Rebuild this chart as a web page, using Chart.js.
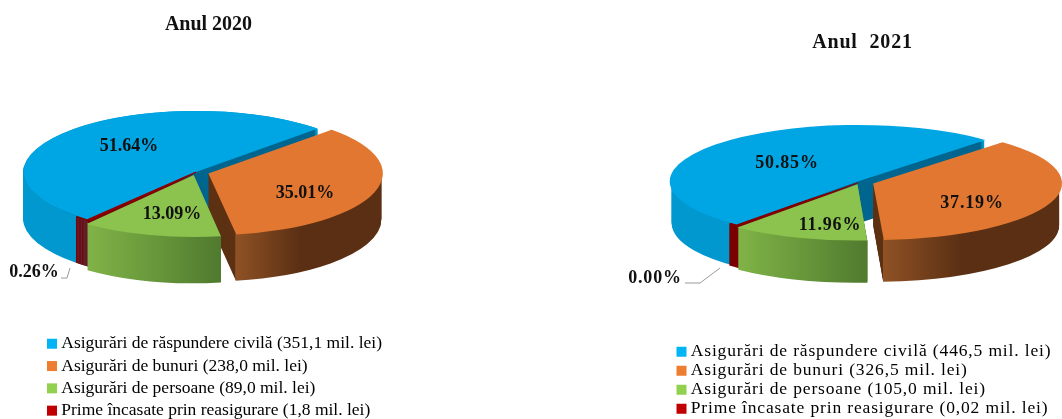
<!DOCTYPE html>
<html>
<head>
<meta charset="utf-8">
<style>
    html, body { margin: 0; padding: 0; background: #fff; overflow: hidden; }
    #wrap { position: relative; width: 1062px; height: 419px; overflow: hidden; }
    #wrap div { position: absolute; top: 0; height: 419px; }
</style>
<script src="https://cdn.jsdelivr.net/npm/chart.js@4"></script>
</head>
<body>
<div id="wrap">
    <div style="left:0"><canvas id="pie2020" width="392" height="419"></canvas></div>
    <div style="left:610px"><canvas id="pie2021" width="500" height="419"></canvas></div>
</div>
<script>
const values2020 = [351.1, 238.0, 89.0, 1.8];
const values2021 = [446.5, 326.5, 105.0, 0.02];
const percent2020 = ["51.64%", "35.01%", "13.09%", "0.26%"];
const percent2021 = ["50.85%", "37.19%", "11.96%", "0.00%"];
const legend2020 = [
    "Asigurări de răspundere civilă (351,1 mil. lei)",
    "Asigurări de bunuri (238,0 mil. lei)",
    "Asigurări de persoane (89,0 mil. lei)",
    "Prime încasate prin reasigurare (1,8 mil. lei)",
];
const legend2021 = [
    "Asigurări de răspundere civilă (446,5 mil. lei)",
    "Asigurări de bunuri (326,5 mil. lei)",
    "Asigurări de persoane (105,0 mil. lei)",
    "Prime încasate prin reasigurare (0,02 mil. lei)",
];

const topColors = ["#00a6e4", "#e17730", "#8bc34e", "#9c0a0a"];
const legendColors = ["#00b4f5", "#ed7d31", "#92d050", "#c00000"];
const cutColors = ["#00668f", "#5e3314", "#5d8a33", "#7a0000"];
const rimColors = [
    ["#0098cf", "#0098cf", "#0098cf"],
    ["#8f5225", "#5a2f13", "#5a2f13"],
    ["#80b347", "#6a9a3c", "#507a2e"],
    ["#7a0000", "#7a0000", "#7a0000"],
];

const serif = "'Liberation Serif', 'Times New Roman', serif";

// pie is squashed and extruded here, the arcs themselves come from the library
const pie3d = {
    id: "pie3d",
    afterLayout(chart, args, opts) {
        const legend = chart.legend;
        legend.left = opts.legendX - legend.options.labels.padding;
        legend.right = legend.left + 420;
        legend.top = opts.legendY - legend.options.labels.padding;
        legend.bottom = legend.top + 200;
        // no clip, the thick box stroke would be cut off at legend.left
        legend.draw = () => legend._draw();
        chart.titleBlock.left += opts.titleShift;
        chart.titleBlock.right += opts.titleShift;
    },
    beforeDraw(chart, args, opts) {
        chart.ctx.letterSpacing = opts.spacing + "px";
    },
    beforeDatasetsDraw(chart, args, opts) {
        const ctx = chart.ctx;
        const arcs = chart.getDatasetMeta(0).data;
        const k = opts.squash;
        const drawOrder = [0, 3, 1, 2];

        ctx.save();
        for (let d = opts.depth; d >= 1; d--) {
            drawOrder.forEach((i) => {
                const el = arcs[i];
                const off = (el.options.offset || 0) / 4;
                const mid = (el.startAngle + el.endAngle) / 2;
                const x = el.x + Math.cos(mid) * off;
                const y = el.y + Math.sin(mid) * off * k + d;
                const r = el.outerRadius;
                // the reinsurance slice is too thin to show, widen only its wall over the blue one
                const pad = i === 3 ? opts.redPad : 0;

                ctx.beginPath();
                ctx.moveTo(x, y);
                ctx.ellipse(x, y, r, r * k, 0, el.startAngle, el.endAngle + pad);
                ctx.closePath();
                ctx.fillStyle = cutColors[i];
                ctx.fill();

                const sx = x + r * Math.min(Math.cos(el.startAngle), Math.cos(el.endAngle));
                const ex = x + r * Math.max(Math.cos(el.startAngle), Math.cos(el.endAngle), i === 1 ? 1 : -1);
                const grad = ctx.createLinearGradient(sx, 0, ex, 0);
                grad.addColorStop(0, rimColors[i][0]);
                grad.addColorStop(0.45, rimColors[i][1]);
                grad.addColorStop(1, rimColors[i][2]);
                ctx.beginPath();
                ctx.ellipse(x, y, r, r * k, 0, el.startAngle, el.endAngle + pad);
                ctx.strokeStyle = grad;
                ctx.lineWidth = 2;
                ctx.stroke();
            });
        }
        ctx.restore();

        const cy = arcs[0].y;
        ctx.save();
        ctx.translate(0, cy);
        ctx.scale(1, k);
        ctx.translate(0, -cy);
    },
    afterDatasetsDraw(chart, args, opts) {
        const ctx = chart.ctx;
        ctx.restore();

        ctx.save();
        ctx.strokeStyle = "#9a9a9a";
        ctx.lineWidth = 1;
        ctx.beginPath();
        opts.leader.forEach((p, i) => {
            if (i === 0) ctx.moveTo(p[0], p[1]);
            else ctx.lineTo(p[0], p[1]);
        });
        ctx.stroke();

        ctx.font = "bold " + opts.labelSize + "px " + serif;
        ctx.fillStyle = "#111";
        ctx.textAlign = "center";
        ctx.textBaseline = "middle";
        opts.labels.forEach((t, i) => {
            ctx.fillText(t, opts.labelAt[i][0], opts.labelAt[i][1]);
        });
        ctx.restore();
    },
};

function makePie(id, values, title, legendText, cfg) {
    const ctx = document.getElementById(id);
    return new Chart(ctx, {
        type: "pie",
        data: {
            labels: legendText,
            datasets: [
                {
                    data: values,
                    backgroundColor: topColors,
                    borderColor: ["#00a6e4", "#e17730", "#8bc34e", "#8b0000"],
                    borderWidth: [0, 0, 0, 2],
                    offset: cfg.offsets,
                    clip: false,
                },
            ],
        },
        options: {
            responsive: false,
            animation: false,
            rotation: cfg.rotation,
            radius: cfg.radius,
            layout: { padding: { bottom: cfg.bottomPad } },
            plugins: {
                title: {
                    display: true,
                    text: title,
                    color: "#111",
                    font: { family: serif, size: 20, weight: "bold" },
                    padding: { top: cfg.titleTop, bottom: 2 },
                },
                legend: {
                    position: "chartArea",
                    align: "start",
                    labels: {
                        // thin box with a thick stroke: keeps the 10px square close to the text
                        boxWidth: 1,
                        boxHeight: 1,
                        padding: cfg.legendGap,
                        color: "#222",
                        font: { family: serif, size: 17.5 },
                        generateLabels: () =>
                            legendText.map((text, i) => ({
                                text: text,
                                fillStyle: legendColors[i],
                                strokeStyle: legendColors[i],
                                lineWidth: 9,
                                lineJoin: "miter",
                                index: i,
                            })),
                    },
                },
                tooltip: { enabled: false },
                pie3d: {
                    squash: cfg.squash,
                    depth: cfg.depth,
                    redPad: cfg.redPad,
                    spacing: cfg.spacing,
                    legendX: cfg.legendX,
                    legendY: cfg.legendY,
                    titleShift: cfg.titleShift,
                    labels: cfg.labels,
                    labelAt: cfg.labelAt,
                    labelSize: cfg.labelSize,
                    leader: cfg.leader,
                },
            },
        },
        plugins: [pie3d],
    });
}

makePie("pie2020", values2020, "Anul 2020", legend2020, {
    rotation: 219,
    radius: 172,
    squash: 0.355,
    depth: 46,
    offsets: [0, 52, 36, 0],
    redPad: 0.09,
    bottomPad: 114,
    titleTop: 13,
    titleShift: 12.5,
    legendX: 51.5,
    legendY: 335,
    legendGap: 4.8,
    spacing: 0,
    labels: percent2020,
    labelAt: [[129, 146], [305, 193], [172, 214], [34, 272]],
    labelSize: 18,
    leader: [[61, 278], [67, 278], [70, 268]],
});

makePie("pie2021", values2021, "Anul  2021", legend2021, {
    rotation: 220,
    radius: 185,
    squash: 0.3,
    depth: 42,
    offsets: [12, 56, 32, 12],
    redPad: 0.07,
    bottomPad: 112,
    titleTop: 31,
    titleShift: 2.5,
    legendX: 71,
    legendY: 343,
    legendGap: 1.5,
    spacing: 0.85,
    labels: percent2021,
    labelAt: [[177, 163], [362, 203], [220, 225], [45, 278]],
    labelSize: 18,
    leader: [[75, 283], [90, 283], [110, 268]],
});
</script>
</body>
</html>
